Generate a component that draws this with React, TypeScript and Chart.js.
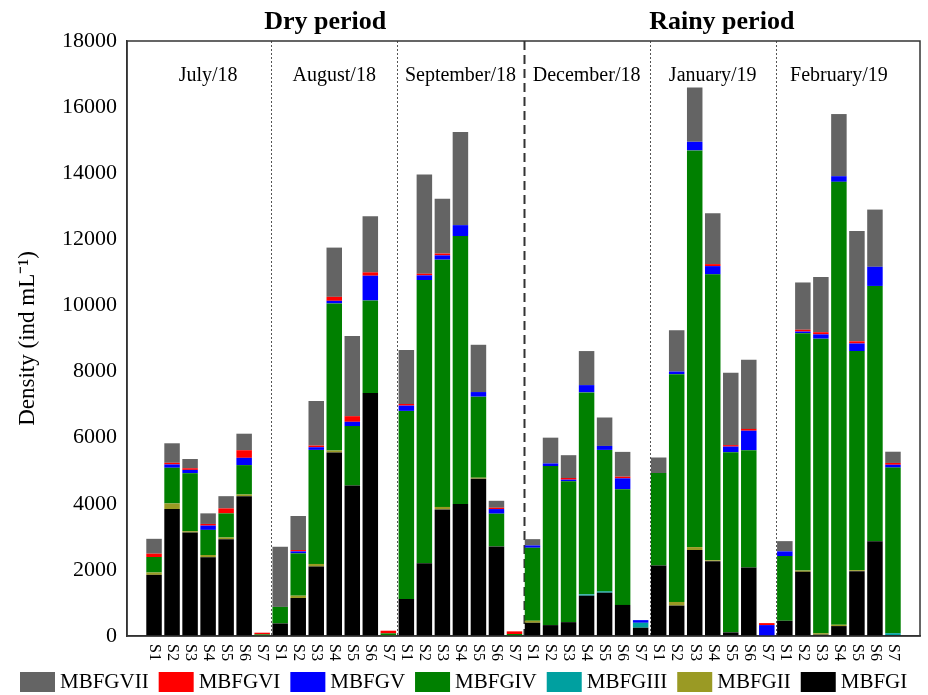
import React, { useEffect, useRef } from 'react';
import { Chart, registerables } from 'chart.js';

Chart.register(...registerables);

const months = ['July/18', 'August/18', 'September/18', 'December/18', 'January/19', 'February/19'];
const sites = ['S1', 'S2', 'S3', 'S4', 'S5', 'S6', 'S7'];
const periods = ['Dry period', 'Rainy period'];

// values per site, months in order Jul, Aug, Sep, Dec, Jan, Feb (7 sites each)
const mbfgI = [
  1850, 3840, 3130, 2380, 2930, 4230, 0,
  380, 1150, 2100, 5550, 4550, 7350, 0,
  1120, 2200, 3830, 3990, 4760, 2710, 0,
  400, 330, 420, 1220, 1310, 940, 250,
  2130, 920, 2600, 2260, 110, 2070, 0,
  460, 1940, 40, 300, 1960, 2870, 30,
];
const mbfgII = [
  70, 170, 40, 70, 50, 50, 10,
  0, 70, 80, 60, 0, 0, 20,
  0, 0, 75, 0, 30, 0, 0,
  60, 0, 0, 0, 0, 0, 0,
  0, 110, 90, 30, 0, 0, 0,
  0, 40, 45, 40, 30, 0, 0,
];
const mbfgIII = [
  0, 0, 0, 0, 0, 0, 0,
  0, 0, 0, 0, 0, 0, 0,
  0, 0, 0, 0, 0, 0, 0,
  0, 0, 0, 40, 40, 0, 150,
  0, 0, 0, 0, 0, 0, 0,
  0, 0, 0, 0, 0, 0, 55,
];
const mbfgIV = [
  470, 1080, 1755, 760, 730, 890, 40,
  500, 1280, 3450, 4450, 1800, 2800, 60,
  5690, 8570, 7480, 8110, 2450, 990, 60,
  2210, 4810, 4260, 6110, 4280, 3500, 0,
  2800, 6890, 12000, 8650, 5450, 3550, 0,
  1960, 7180, 8910, 13400, 6630, 7720, 5010,
];
const mbfgV = [
  0, 100, 100, 130, 0, 220, 0,
  0, 60, 80, 80, 130, 750, 0,
  160, 140, 130, 330, 140, 140, 0,
  70, 80, 50, 220, 120, 330, 80,
  0, 80, 260, 250, 170, 590, 330,
  140, 50, 130, 170, 230, 580, 85,
];
const mbfgVI = [
  100, 50, 50, 50, 150, 230, 50,
  0, 40, 50, 120, 170, 100, 80,
  50, 50, 55, 0, 0, 40, 80,
  0, 0, 50, 0, 0, 50, 0,
  0, 0, 0, 60, 45, 55, 60,
  0, 55, 65, 0, 65, 0, 55,
];
const mbfgVII = [
  450, 590, 280, 320, 370, 500, 0,
  1820, 1030, 1350, 1490, 2425, 1700, 0,
  1630, 3000, 1660, 2820, 1430, 210, 0,
  190, 780, 690, 1030, 860, 750, 0,
  470, 1250, 1640, 1540, 2190, 2090, 0,
  310, 1430, 1670, 1880, 3340, 1730, 340,
];

const seriesNames = ['MBFGI', 'MBFGII', 'MBFGIII', 'MBFGIV', 'MBFGV', 'MBFGVI', 'MBFGVII'];
const seriesColors = ['#000000', '#9a9a24', '#00a0a0', '#008000', '#0000ff', '#ff0000', '#646464'];
const seriesData = [mbfgI, mbfgII, mbfgIII, mbfgIV, mbfgV, mbfgVI, mbfgVII];

const SERIF = "'Liberation Serif', 'Times New Roman', serif";

const decorPlugin = {
  id: 'decor',
  beforeDatasetsDraw(chart: any) {
    const { ctx, chartArea: a } = chart;
    const xs = chart.scales.x;
    ctx.save();
    for (let k = 1; k < months.length; k++) {
      const x = Math.round((xs.getPixelForValue(7 * k) + xs.getPixelForValue(7 * k + 1)) / 2) + 0.5;
      ctx.beginPath();
      if (k === 3) {
        ctx.setLineDash([9, 5]);
        ctx.lineWidth = 2;
        ctx.strokeStyle = '#333333';
      } else {
        ctx.setLineDash([2, 2]);
        ctx.lineWidth = 1;
        ctx.strokeStyle = '#555555';
      }
      ctx.moveTo(x, a.top);
      ctx.lineTo(x, a.bottom);
      ctx.stroke();
    }
    ctx.restore();
  },
  afterDraw(chart: any) {
    const { ctx, chartArea: a } = chart;
    const xs = chart.scales.x;
    ctx.save();
    // frame
    ctx.setLineDash([]);
    ctx.strokeStyle = '#333333';
    ctx.lineWidth = 1.5;
    ctx.strokeRect(a.left, a.top, a.right - a.left, a.bottom - a.top);

    ctx.fillStyle = '#000000';
    // month labels
    ctx.font = `20px ${SERIF}`;
    ctx.textAlign = 'center';
    ctx.textBaseline = 'middle';
    months.forEach((m, k) => {
      const cx = (xs.getPixelForValue(7 * k + 1) + xs.getPixelForValue(7 * k + 7)) / 2;
      ctx.fillText(m, cx, 76);
    });
    // period titles
    const xDash = (xs.getPixelForValue(21) + xs.getPixelForValue(22)) / 2;
    ctx.font = `bold 26px ${SERIF}`;
    ctx.fillText(periods[0], (a.left + xDash) / 2, 22);
    ctx.fillText(periods[1], (xDash + a.right) / 2, 22);

    // x tick labels rotated clockwise
    ctx.font = `16px ${SERIF}`;
    ctx.textAlign = 'left';
    ctx.textBaseline = 'middle';
    for (let i = 1; i <= 42; i++) {
      const x = xs.getPixelForValue(i);
      ctx.save();
      ctx.translate(x, a.bottom + 8);
      ctx.rotate(Math.PI / 2);
      ctx.fillText(sites[(i - 1) % 7], 0, 0);
      ctx.restore();
    }

    // legend (top series first)
    ctx.font = `21px ${SERIF}`;
    ctx.textAlign = 'left';
    ctx.textBaseline = 'middle';
    let lx = 20;
    const ly = 672;
    for (let s = seriesNames.length - 1; s >= 0; s--) {
      ctx.fillStyle = seriesColors[s];
      ctx.fillRect(lx, ly, 35, 20);
      ctx.fillStyle = '#000000';
      ctx.fillText(seriesNames[s], lx + 40, ly + 10.5);
      lx += 40 + ctx.measureText(seriesNames[s]).width + 10;
    }
    ctx.restore();
  },
};

export default function App() {
  const ref = useRef<HTMLCanvasElement>(null);
  useEffect(() => {
    if (!ref.current) return;
    const labels = ['', ...months.flatMap(() => sites), ''];
    const pad = (arr: number[]) => [null, ...arr, null];
    const chart = new Chart(ref.current, {
      type: 'bar',
      data: {
        labels,
        datasets: seriesNames.map((name, i) => ({
          label: name,
          data: pad(seriesData[i]) as any,
          backgroundColor: seriesColors[i],
          borderWidth: 0,
          barPercentage: 0.86,
          categoryPercentage: 1,
        })),
      },
      options: {
        responsive: false,
        devicePixelRatio: 1,
        animation: false,
        layout: { padding: { top: 41, right: 8, left: 0, bottom: 0 } },
        plugins: {
          legend: { display: false },
          tooltip: { enabled: false },
        },
        scales: {
          x: {
            stacked: true,
            grid: { display: false, drawTicks: false },
            border: { display: true, color: '#333333', width: 1.5 },
            ticks: { display: false },
            afterFit: (s: any) => { s.height = 59; },
          },
          y: {
            stacked: true,
            min: 0,
            max: 18000,
            grid: { display: false, drawTicks: false },
            border: { display: true, color: '#333333', width: 1.5 },
            ticks: {
              stepSize: 2000,
              padding: 10,
              color: '#000000',
              font: { family: SERIF, size: 22 },
              callback: (v: any) => String(v),
            },
            title: {
              display: true,
              text: 'Density (ind mL⁻¹)',
              color: '#000000',
              font: { family: SERIF, size: 23 },
              padding: { top: 14, bottom: 0 },
            },
            afterFit: (s: any) => { s.width = 127; },
          },
        },
      },
      plugins: [decorPlugin],
    });
    return () => chart.destroy();
  }, []);
  return (
    <div style={{ position: 'absolute', left: 0, top: 0, width: 928, height: 695, background: '#ffffff' }}>
      <canvas ref={ref} width={928} height={695} style={{ width: 928, height: 695, display: 'block' }} />
    </div>
  );
}
